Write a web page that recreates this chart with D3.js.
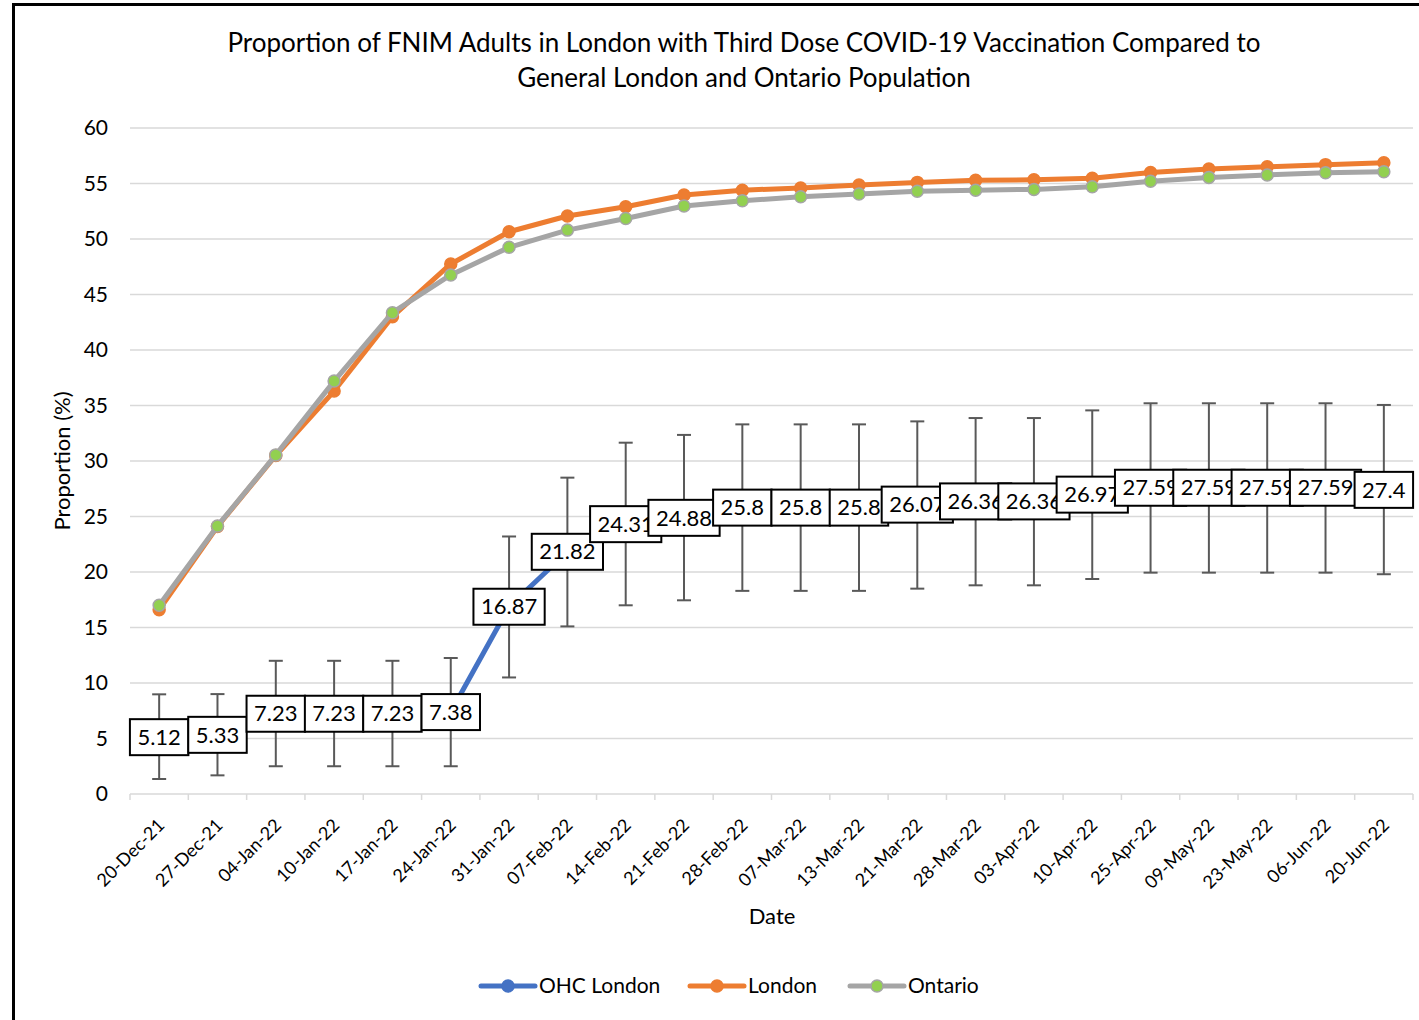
<!DOCTYPE html>
<html>
<head>
<meta charset="utf-8">
<script src="https://cdn.jsdelivr.net/npm/d3@7"></script>
<style>
  body { margin: 0; background: #fff; }
  text { font-family: Lato, "Noto Sans", sans-serif; fill: #000; }
</style>
</head>
<body>
<div class="chart"></div>
<script>
var width = 1419, height = 1020

var dates = ["20-Dec-21","27-Dec-21","04-Jan-22","10-Jan-22","17-Jan-22","24-Jan-22","31-Jan-22",
  "07-Feb-22","14-Feb-22","21-Feb-22","28-Feb-22","07-Mar-22","13-Mar-22","21-Mar-22","28-Mar-22",
  "03-Apr-22","10-Apr-22","25-Apr-22","09-May-22","23-May-22","06-Jun-22","20-Jun-22"]

var ohcLondon = [5.12,5.33,7.23,7.23,7.23,7.38,16.87,21.82,24.31,24.88,25.8,25.8,25.8,26.07,26.36,26.36,26.97,27.59,27.59,27.59,27.59,27.4]
var ohcLower = [1.35,1.68,2.5,2.5,2.5,2.5,10.5,15.1,17.0,17.45,18.3,18.3,18.3,18.5,18.8,18.8,19.37,19.94,19.94,19.94,19.94,19.8]
var ohcUpper = [8.98,9.0,12.0,12.0,12.0,12.25,23.2,28.5,31.65,32.35,33.3,33.3,33.3,33.57,33.87,33.87,34.56,35.2,35.2,35.2,35.2,35.05]

var london = [16.6,24.1,30.5,36.3,43.0,47.75,50.65,52.07,52.9,53.96,54.4,54.6,54.86,55.1,55.3,55.33,55.47,56.0,56.3,56.5,56.7,56.87]
var ontario = [17.0,24.15,30.55,37.2,43.36,46.76,49.25,50.8,51.85,52.97,53.45,53.8,54.05,54.3,54.4,54.47,54.7,55.2,55.55,55.77,55.97,56.06]

var yTicks = [0,5,10,15,20,25,30,35,40,45,50,55,60]

var series = [
  {name: "OHC London", values: ohcLondon, line: "#4472c4", fill: "#4472c4", stroke: "#4472c4"},
  {name: "London", values: london, line: "#ed7d31", fill: "#ed7d31", stroke: "#ed7d31"},
  {name: "Ontario", values: ontario, line: "#a5a5a5", fill: "#92d050", stroke: "#a5a5a5"}
]

var svg = d3.select(".chart").append("svg")
    .attr("width", width)
    .attr("height", height)

// outer frame
svg.append("rect")
    .attr("x", 13.5).attr("y", 4.5)
    .attr("width", 1430).attr("height", 1040)
    .attr("fill", "none").attr("stroke", "#000").attr("stroke-width", 3)

var x = d3.scaleBand().domain(dates).range([130, 1413])
var y = d3.scaleLinear().domain([0, 60]).range([794, 128])
var cx = function(i){ return x(dates[i]) + x.bandwidth() / 2 }

// title
svg.append("text").attr("x", 744).attr("y", 52).attr("text-anchor", "middle")
    .style("font-size", "26px")
    .text("Proportion of FNIM Adults in London with Third Dose COVID-19 Vaccination Compared to")
svg.append("text").attr("x", 744).attr("y", 87).attr("text-anchor", "middle")
    .style("font-size", "26px")
    .text("General London and Ontario Population")

// gridlines
svg.append("g").selectAll("line")
    .data(yTicks.filter(function(d){ return d > 0 }))
    .enter().append("line")
    .attr("x1", 130).attr("x2", 1413)
    .attr("y1", function(d){ return y(d) }).attr("y2", function(d){ return y(d) })
    .attr("stroke", "#d9d9d9").attr("stroke-width", 1.5)

// y axis labels
svg.append("g").selectAll("text")
    .data(yTicks)
    .enter().append("text")
    .attr("x", 108).attr("y", function(d){ return y(d) })
    .attr("dy", "0.35em").attr("text-anchor", "end")
    .style("font-size", "21px")
    .text(function(d){ return d })

// x axis
var xAxis = svg.append("g").attr("transform", "translate(0,794)")
xAxis.append("line").attr("x1", 130).attr("x2", 1413)
    .attr("stroke", "#d9d9d9").attr("stroke-width", 1.5)
xAxis.selectAll(".tick")
    .data(dates.concat(["end"]))
    .enter().append("line")
    .attr("x1", function(d, i){ return 130 + i * x.step() })
    .attr("x2", function(d, i){ return 130 + i * x.step() })
    .attr("y1", 0).attr("y2", 6)
    .attr("stroke", "#d9d9d9").attr("stroke-width", 1.5)
xAxis.selectAll("text")
    .data(dates)
    .enter().append("text")
    .attr("transform", function(d){ return "translate(" + (x(d) + x.bandwidth() / 2 + 2) + ",28) rotate(-45)" })
    .attr("text-anchor", "end").attr("dy", "0.35em")
    .style("font-size", "18px")
    .text(function(d){ return d })

// axis titles
svg.append("text").attr("x", 772).attr("y", 924).attr("text-anchor", "middle")
    .style("font-size", "22px").text("Date")
svg.append("text").attr("transform", "translate(70,461) rotate(-90)")
    .attr("text-anchor", "middle").style("font-size", "22px").text("Proportion (%)")

// lines + markers
var line = d3.line()
    .x(function(d, i){ return cx(i) })
    .y(function(d){ return y(d) })

series.forEach(function(s){
  var g = svg.append("g")
  g.append("path")
      .attr("d", line(s.values))
      .attr("fill", "none").attr("stroke", s.line).attr("stroke-width", 5)
      .attr("stroke-linejoin", "round")
  g.selectAll("circle")
      .data(s.values)
      .enter().append("circle")
      .attr("cx", function(d, i){ return cx(i) })
      .attr("cy", function(d){ return y(d) })
      .attr("r", 6)
      .attr("fill", s.fill).attr("stroke", s.stroke).attr("stroke-width", 1.5)

  if (s.name == "OHC London"){
    // error bars
    var eb = svg.append("g").attr("stroke", "#595959").attr("stroke-width", 2)
    ohcLondon.forEach(function(v, i){
      eb.append("line").attr("x1", cx(i)).attr("x2", cx(i))
          .attr("y1", y(ohcLower[i])).attr("y2", y(ohcUpper[i]))
      eb.append("line").attr("x1", cx(i) - 7).attr("x2", cx(i) + 7)
          .attr("y1", y(ohcLower[i])).attr("y2", y(ohcLower[i]))
      eb.append("line").attr("x1", cx(i) - 7).attr("x2", cx(i) + 7)
          .attr("y1", y(ohcUpper[i])).attr("y2", y(ohcUpper[i]))
    })
    // data label boxes
    ohcLondon.forEach(function(v, i){
      var lg = svg.append("g")
      var r = lg.append("rect")
      var t = lg.append("text")
          .attr("x", cx(i)).attr("y", y(v)).attr("dy", "0.35em")
          .attr("text-anchor", "middle").style("font-size", "22px")
          .text(v)
      var w = t.node().getComputedTextLength() + 15
      r.attr("x", cx(i) - w / 2).attr("y", y(v) - 18)
          .attr("width", w).attr("height", 36)
          .attr("fill", "#fff").attr("stroke", "#000").attr("stroke-width", 2)
    })
  }
})

// legend
var legend = svg.append("g")
var legendX = [481, 690, 850]
series.forEach(function(s, i){
  var lx = legendX[i]
  legend.append("line").attr("x1", lx).attr("x2", lx + 54)
      .attr("y1", 986).attr("y2", 986)
      .attr("stroke", s.line).attr("stroke-width", 5).attr("stroke-linecap", "round")
  legend.append("circle").attr("cx", lx + 27).attr("cy", 986).attr("r", 6)
      .attr("fill", s.fill).attr("stroke", s.stroke).attr("stroke-width", 1.5)
  legend.append("text").attr("x", lx + 58).attr("y", 986).attr("dy", "0.35em")
      .style("font-size", "21px").text(s.name)
})
</script>
</body>
</html>
